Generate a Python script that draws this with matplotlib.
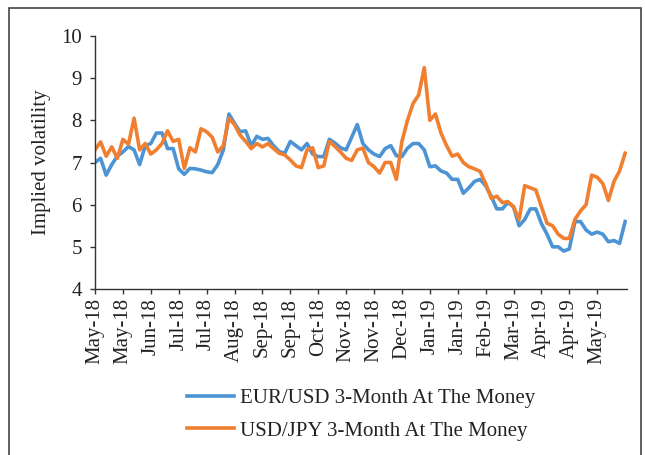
import numpy as np
import matplotlib
matplotlib.use('Agg')
import matplotlib.pyplot as plt
from matplotlib.patches import Rectangle

# trading-day index (every 3rd business day, starting 1 May 2018)
days = np.arange(0, 286, 3)

eur_usd = [7.0, 7.1, 6.7, 6.95, 7.15, 7.25, 7.38, 7.3, 6.95, 7.4,
           7.45, 7.7, 7.7, 7.33, 7.33, 6.85, 6.72, 6.86, 6.85, 6.82,
           6.78, 6.76, 6.95, 7.3, 8.15, 7.93, 7.73, 7.75, 7.4, 7.62,
           7.55, 7.57, 7.4, 7.26, 7.22, 7.5, 7.4, 7.3, 7.45, 7.2,
           7.14, 7.14, 7.55, 7.46, 7.35, 7.3, 7.6, 7.9, 7.45, 7.3,
           7.2, 7.14, 7.33, 7.4, 7.16, 7.14, 7.34, 7.45, 7.45, 7.3,
           6.9, 6.92, 6.8, 6.75, 6.6, 6.6, 6.27, 6.4, 6.55, 6.6,
           6.45, 6.2, 5.9, 5.9, 6.05, 5.95, 5.5, 5.65, 5.9, 5.9,
           5.55, 5.3, 5.0, 5.0, 4.9, 4.95, 5.6, 5.6, 5.4, 5.3,
           5.35, 5.3, 5.12, 5.15, 5.08, 5.6]

usd_jpy = [7.3, 7.49, 7.15, 7.37, 7.1, 7.55, 7.43, 8.05, 7.3, 7.45,
           7.2, 7.3, 7.45, 7.75, 7.5, 7.55, 6.86, 7.35, 7.25, 7.8,
           7.73, 7.6, 7.25, 7.4, 8.05, 7.9, 7.65, 7.5, 7.33, 7.45,
           7.37, 7.45, 7.33, 7.22, 7.18, 7.06, 6.92, 6.88, 7.3, 7.35,
           6.88, 6.92, 7.5, 7.38, 7.25, 7.1, 7.05, 7.3, 7.34, 7.0,
           6.9, 6.75, 7.0, 7.0, 6.6, 7.5, 8.0, 8.4, 8.6, 9.25,
           8.0, 8.15, 7.7, 7.4, 7.15, 7.2, 7.0, 6.9, 6.85, 6.79,
           6.5, 6.15, 6.2, 6.05, 6.07, 5.95, 5.65, 6.45, 6.4, 6.35,
           5.95, 5.56, 5.5, 5.3, 5.2, 5.2, 5.65, 5.85, 6.0, 6.7,
           6.65, 6.5, 6.1, 6.55, 6.8, 7.22]

tick_days = np.arange(0, 271, 15)
tick_labels = ['May-18', 'May-18', 'Jun-18', 'Jul-18', 'Jul-18', 'Aug-18',
               'Sep-18', 'Sep-18', 'Oct-18', 'Nov-18', 'Nov-18', 'Dec-18',
               'Jan-19', 'Jan-19', 'Feb-19', 'Mar-19', 'Apr-19', 'Apr-19',
               'May-19']

plt.rcParams['font.family'] = ['Liberation Serif', 'DejaVu Serif']
plt.rcParams['font.size'] = 15

fig = plt.figure(figsize=(6.45, 4.55), dpi=100)
ax = fig.add_axes([95 / 645, 1 - 289 / 455, 532 / 645, 253 / 455])

ax.plot(days, eur_usd, color='#4C94D4', lw=2.6, label='EUR/USD 3-Month At The Money')
ax.plot(days, usd_jpy, color='#F07F30', lw=2.6, label='USD/JPY 3-Month At The Money')

ax.set_xlim(0, 286)
ax.set_ylim(4, 10)
ax.set_yticks(range(4, 11))
ax.set_xticks(tick_days)
ax.set_xticklabels(tick_labels, rotation=90)
ax.tick_params(axis='both', length=3.5, width=1, color='#333333', labelcolor='#222222')
ax.tick_params(axis='x', pad=3)
ax.tick_params(axis='y', pad=6)

for s in ['top', 'right']:
    ax.spines[s].set_visible(False)
for s in ['left', 'bottom']:
    ax.spines[s].set_color('#333333')
    ax.spines[s].set_linewidth(1)

ax.set_ylabel('Implied volatility', color='#222222')
ax.yaxis.set_label_coords(-0.083, 0.5)

fig.legend(loc='center left', bbox_to_anchor=(187 / 645, 1 - 414.5 / 455),
           frameon=False, borderpad=0, borderaxespad=0, handlelength=2.25,
           handletextpad=0.3, labelspacing=0.62, labelcolor='#222222')

# outer frame of the exhibit
fig.patches.append(Rectangle((9 / 645, -0.05), 632 / 645, 1.05 - 8 / 455,
                             transform=fig.transFigure, fill=False,
                             ec='#444444', lw=1.2))

fig.savefig('out.png', dpi=100)
